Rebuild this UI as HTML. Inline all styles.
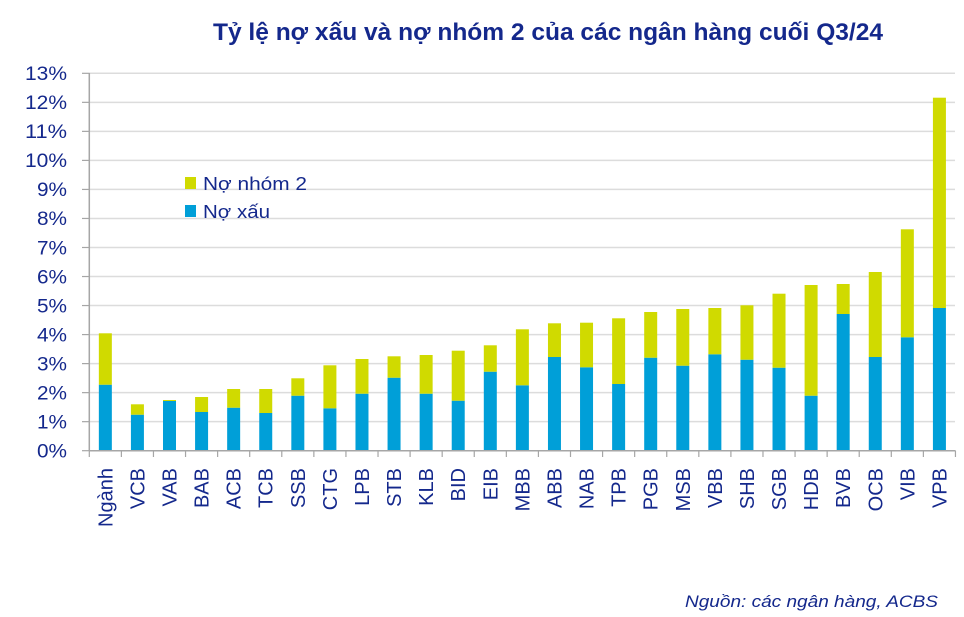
<!DOCTYPE html>
<html>
<head>
<meta charset="utf-8">
<style>
html,body{margin:0;padding:0;background:#fff;}
svg{display:block;}
text{font-family:"Liberation Sans",Arial,sans-serif;fill:#14288c;}
</style>
</head>
<body>
<svg width="964" height="617" viewBox="0 0 964 617" xmlns="http://www.w3.org/2000/svg">
<rect width="964" height="617" fill="#fff"/>
<!-- title -->
<text x="213" y="40" font-size="24" font-weight="bold" textLength="670" lengthAdjust="spacingAndGlyphs">Tỷ lệ nợ xấu và nợ nhóm 2 của các ngân hàng cuối Q3/24</text>

<!-- gridlines -->
<g stroke="#dcdcdc" stroke-width="1.5">
<line x1="89" x2="955" y1="421.67" y2="421.67"/>
<line x1="89" x2="955" y1="392.64" y2="392.64"/>
<line x1="89" x2="955" y1="363.61" y2="363.61"/>
<line x1="89" x2="955" y1="334.58" y2="334.58"/>
<line x1="89" x2="955" y1="305.55" y2="305.55"/>
<line x1="89" x2="955" y1="276.52" y2="276.52"/>
<line x1="89" x2="955" y1="247.49" y2="247.49"/>
<line x1="89" x2="955" y1="218.46" y2="218.46"/>
<line x1="89" x2="955" y1="189.43" y2="189.43"/>
<line x1="89" x2="955" y1="160.40" y2="160.40"/>
<line x1="89" x2="955" y1="131.37" y2="131.37"/>
<line x1="89" x2="955" y1="102.34" y2="102.34"/>
<line x1="89" x2="955" y1="73.31" y2="73.31"/>
</g>

<!-- y ticks -->
<g stroke="#a6a6a6" stroke-width="1.2">
<line x1="82" x2="89.3" y1="450.7" y2="450.7"/>
<line x1="82" x2="89.3" y1="421.67" y2="421.67"/>
<line x1="82" x2="89.3" y1="392.64" y2="392.64"/>
<line x1="82" x2="89.3" y1="363.61" y2="363.61"/>
<line x1="82" x2="89.3" y1="334.58" y2="334.58"/>
<line x1="82" x2="89.3" y1="305.55" y2="305.55"/>
<line x1="82" x2="89.3" y1="276.52" y2="276.52"/>
<line x1="82" x2="89.3" y1="247.49" y2="247.49"/>
<line x1="82" x2="89.3" y1="218.46" y2="218.46"/>
<line x1="82" x2="89.3" y1="189.43" y2="189.43"/>
<line x1="82" x2="89.3" y1="160.40" y2="160.40"/>
<line x1="82" x2="89.3" y1="131.37" y2="131.37"/>
<line x1="82" x2="89.3" y1="102.34" y2="102.34"/>
<line x1="82" x2="89.3" y1="73.31" y2="73.31"/>
</g>

<!-- y labels -->
<g font-size="19" text-anchor="end">
<text x="67" y="457.5" textLength="30" lengthAdjust="spacingAndGlyphs">0%</text>
<text x="67" y="428.5" textLength="30" lengthAdjust="spacingAndGlyphs">1%</text>
<text x="67" y="399.4" textLength="30" lengthAdjust="spacingAndGlyphs">2%</text>
<text x="67" y="370.4" textLength="30" lengthAdjust="spacingAndGlyphs">3%</text>
<text x="67" y="341.4" textLength="30" lengthAdjust="spacingAndGlyphs">4%</text>
<text x="67" y="312.3" textLength="30" lengthAdjust="spacingAndGlyphs">5%</text>
<text x="67" y="283.3" textLength="30" lengthAdjust="spacingAndGlyphs">6%</text>
<text x="67" y="254.3" textLength="30" lengthAdjust="spacingAndGlyphs">7%</text>
<text x="67" y="225.2" textLength="30" lengthAdjust="spacingAndGlyphs">8%</text>
<text x="67" y="196.2" textLength="30" lengthAdjust="spacingAndGlyphs">9%</text>
<text x="67" y="167.2" textLength="42" lengthAdjust="spacingAndGlyphs">10%</text>
<text x="67" y="138.1" textLength="42" lengthAdjust="spacingAndGlyphs">11%</text>
<text x="67" y="109.1" textLength="42" lengthAdjust="spacingAndGlyphs">12%</text>
<text x="67" y="80.1" textLength="42" lengthAdjust="spacingAndGlyphs">13%</text>
</g>

<!-- bars: blue -->
<g fill="#009fd8">
<rect x="98.84" y="384.7" width="13" height="66.0"/>
<rect x="130.92" y="414.7" width="13" height="36.0"/>
<rect x="163.00" y="401.0" width="13" height="49.7"/>
<rect x="195.08" y="412.0" width="13" height="38.7"/>
<rect x="227.16" y="407.7" width="13" height="43.0"/>
<rect x="259.24" y="413.0" width="13" height="37.7"/>
<rect x="291.32" y="395.7" width="13" height="55.0"/>
<rect x="323.40" y="408.3" width="13" height="42.4"/>
<rect x="355.48" y="393.7" width="13" height="57.0"/>
<rect x="387.56" y="377.7" width="13" height="73.0"/>
<rect x="419.64" y="393.7" width="13" height="57.0"/>
<rect x="451.72" y="400.7" width="13" height="50.0"/>
<rect x="483.80" y="371.7" width="13" height="79.0"/>
<rect x="515.88" y="385.3" width="13" height="65.4"/>
<rect x="547.96" y="357.0" width="13" height="93.7"/>
<rect x="580.04" y="367.3" width="13" height="83.4"/>
<rect x="612.12" y="384.0" width="13" height="66.7"/>
<rect x="644.20" y="357.7" width="13" height="93.0"/>
<rect x="676.28" y="365.7" width="13" height="85.0"/>
<rect x="708.36" y="354.3" width="13" height="96.4"/>
<rect x="740.44" y="359.7" width="13" height="91.0"/>
<rect x="772.52" y="367.7" width="13" height="83.0"/>
<rect x="804.60" y="395.7" width="13" height="55.0"/>
<rect x="836.68" y="314.0" width="13" height="136.7"/>
<rect x="868.76" y="357.0" width="13" height="93.7"/>
<rect x="900.84" y="337.3" width="13" height="113.4"/>
<rect x="932.92" y="308.0" width="13" height="142.7"/>
</g>
<!-- bars: yellow -->
<g fill="#d0da00">
<rect x="98.84" y="333.3" width="13" height="51.4"/>
<rect x="130.92" y="404.3" width="13" height="10.4"/>
<rect x="163.00" y="400.0" width="13" height="1.0"/>
<rect x="195.08" y="397.0" width="13" height="15.0"/>
<rect x="227.16" y="389.0" width="13" height="18.7"/>
<rect x="259.24" y="389.0" width="13" height="24.0"/>
<rect x="291.32" y="378.3" width="13" height="17.4"/>
<rect x="323.40" y="365.3" width="13" height="43.0"/>
<rect x="355.48" y="359.0" width="13" height="34.7"/>
<rect x="387.56" y="356.3" width="13" height="21.4"/>
<rect x="419.64" y="355.0" width="13" height="38.7"/>
<rect x="451.72" y="350.7" width="13" height="50.0"/>
<rect x="483.80" y="345.3" width="13" height="26.4"/>
<rect x="515.88" y="329.3" width="13" height="56.0"/>
<rect x="547.96" y="323.3" width="13" height="33.7"/>
<rect x="580.04" y="322.7" width="13" height="44.6"/>
<rect x="612.12" y="318.3" width="13" height="65.7"/>
<rect x="644.20" y="312.0" width="13" height="45.7"/>
<rect x="676.28" y="309.0" width="13" height="56.7"/>
<rect x="708.36" y="308.0" width="13" height="46.3"/>
<rect x="740.44" y="305.3" width="13" height="54.4"/>
<rect x="772.52" y="293.7" width="13" height="74.0"/>
<rect x="804.60" y="285.0" width="13" height="110.7"/>
<rect x="836.68" y="284.0" width="13" height="30.0"/>
<rect x="868.76" y="272.0" width="13" height="85.0"/>
<rect x="900.84" y="229.3" width="13" height="108.0"/>
<rect x="932.92" y="97.7" width="13" height="210.3"/>
</g>

<!-- axes -->
<g stroke="#a6a6a6" stroke-width="1.5">
<line x1="89.3" x2="89.3" y1="73" y2="451"/>
<line x1="89.3" x2="955.5" y1="450.7" y2="450.7"/>
</g>
<g stroke="#a6a6a6" stroke-width="1.2">
<line x1="89.3" x2="89.3" y1="450.7" y2="457"/>
<line x1="121.38" x2="121.38" y1="450.7" y2="457"/>
<line x1="153.46" x2="153.46" y1="450.7" y2="457"/>
<line x1="185.54" x2="185.54" y1="450.7" y2="457"/>
<line x1="217.62" x2="217.62" y1="450.7" y2="457"/>
<line x1="249.70" x2="249.70" y1="450.7" y2="457"/>
<line x1="281.78" x2="281.78" y1="450.7" y2="457"/>
<line x1="313.86" x2="313.86" y1="450.7" y2="457"/>
<line x1="345.94" x2="345.94" y1="450.7" y2="457"/>
<line x1="378.02" x2="378.02" y1="450.7" y2="457"/>
<line x1="410.10" x2="410.10" y1="450.7" y2="457"/>
<line x1="442.18" x2="442.18" y1="450.7" y2="457"/>
<line x1="474.26" x2="474.26" y1="450.7" y2="457"/>
<line x1="506.34" x2="506.34" y1="450.7" y2="457"/>
<line x1="538.42" x2="538.42" y1="450.7" y2="457"/>
<line x1="570.50" x2="570.50" y1="450.7" y2="457"/>
<line x1="602.58" x2="602.58" y1="450.7" y2="457"/>
<line x1="634.66" x2="634.66" y1="450.7" y2="457"/>
<line x1="666.74" x2="666.74" y1="450.7" y2="457"/>
<line x1="698.82" x2="698.82" y1="450.7" y2="457"/>
<line x1="730.90" x2="730.90" y1="450.7" y2="457"/>
<line x1="762.98" x2="762.98" y1="450.7" y2="457"/>
<line x1="795.06" x2="795.06" y1="450.7" y2="457"/>
<line x1="827.14" x2="827.14" y1="450.7" y2="457"/>
<line x1="859.22" x2="859.22" y1="450.7" y2="457"/>
<line x1="891.30" x2="891.30" y1="450.7" y2="457"/>
<line x1="923.38" x2="923.38" y1="450.7" y2="457"/>
<line x1="955.46" x2="955.46" y1="450.7" y2="457"/>
</g>

<!-- x labels -->
<g font-size="20" text-anchor="end">
<text transform="translate(112.3,468) rotate(-90)">Ngành</text>
<text transform="translate(144.4,468) rotate(-90)">VCB</text>
<text transform="translate(176.5,468) rotate(-90)">VAB</text>
<text transform="translate(208.6,468) rotate(-90)">BAB</text>
<text transform="translate(240.7,468) rotate(-90)">ACB</text>
<text transform="translate(272.7,468) rotate(-90)">TCB</text>
<text transform="translate(304.8,468) rotate(-90)">SSB</text>
<text transform="translate(336.9,468) rotate(-90)">CTG</text>
<text transform="translate(369.0,468) rotate(-90)">LPB</text>
<text transform="translate(401.1,468) rotate(-90)">STB</text>
<text transform="translate(433.1,468) rotate(-90)">KLB</text>
<text transform="translate(465.2,468) rotate(-90)">BID</text>
<text transform="translate(497.3,468) rotate(-90)">EIB</text>
<text transform="translate(529.4,468) rotate(-90)">MBB</text>
<text transform="translate(561.5,468) rotate(-90)">ABB</text>
<text transform="translate(593.5,468) rotate(-90)">NAB</text>
<text transform="translate(625.6,468) rotate(-90)">TPB</text>
<text transform="translate(657.7,468) rotate(-90)">PGB</text>
<text transform="translate(689.8,468) rotate(-90)">MSB</text>
<text transform="translate(721.9,468) rotate(-90)">VBB</text>
<text transform="translate(753.9,468) rotate(-90)">SHB</text>
<text transform="translate(786.0,468) rotate(-90)">SGB</text>
<text transform="translate(818.1,468) rotate(-90)">HDB</text>
<text transform="translate(850.2,468) rotate(-90)">BVB</text>
<text transform="translate(882.3,468) rotate(-90)">OCB</text>
<text transform="translate(914.3,468) rotate(-90)">VIB</text>
<text transform="translate(946.4,468) rotate(-90)">VPB</text>
</g>

<!-- legend -->
<rect x="185" y="177" width="11" height="12" fill="#d0da00"/>
<rect x="185" y="205" width="11" height="12" fill="#009fd8"/>
<text x="203" y="190" font-size="18" textLength="104" lengthAdjust="spacingAndGlyphs">Nợ nhóm 2</text>
<text x="203" y="218" font-size="18" textLength="67" lengthAdjust="spacingAndGlyphs">Nợ xấu</text>

<!-- source -->
<text x="685" y="607" font-size="17" font-style="italic" textLength="253" lengthAdjust="spacingAndGlyphs">Nguồn: các ngân hàng, ACBS</text>
</svg>
</body>
</html>
